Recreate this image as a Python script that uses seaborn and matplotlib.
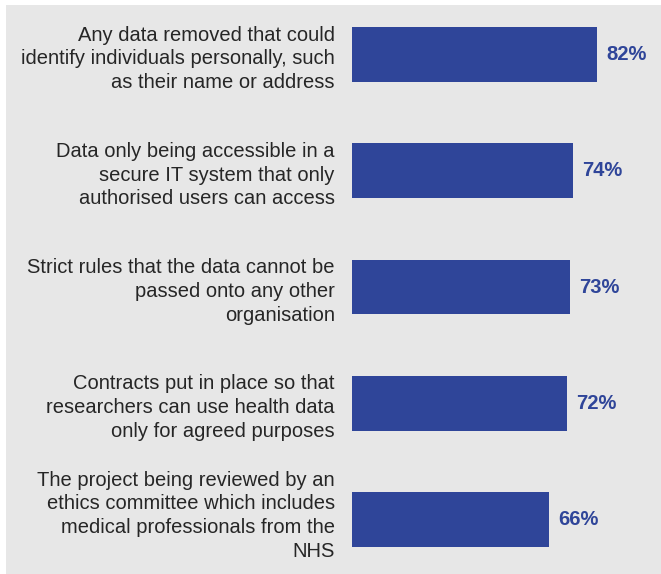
import matplotlib
matplotlib.use("Agg")
import matplotlib.pyplot as plt
from matplotlib.patches import Rectangle
import seaborn as sns
import pandas as pd

categories = [
    "Any data removed that could\nidentify individuals personally, such\nas their name or address",
    "Data only being accessible in a\nsecure IT system that only\nauthorised users can access",
    "Strict rules that the data cannot be\npassed onto any other\norganisation",
    "Contracts put in place so that\nresearchers can use health data\nonly for agreed purposes",
    "The project being reviewed by an\nethics committee which includes\nmedical professionals from the\nNHS",
]
values = [82, 74, 73, 72, 66]

bar_color = "#2F4599"
panel_color = "#E7E7E7"
text_color = "#262626"

sns.set_theme(style="white")
plt.rcParams["font.family"] = ["Liberation Sans", "DejaVu Sans"]

W, H = 661, 574
fig = plt.figure(figsize=(W / 100, H / 100), dpi=100)
fig.patch.set_facecolor("white")
fig.patches.append(Rectangle((6 / W, 0), 1 - 6 / W, 1 - 5 / H,
                             transform=fig.transFigure, facecolor=panel_color,
                             edgecolor="none", zorder=-10))

left_px, top_px, bottom_px = 352, 10, 564
ax = fig.add_axes([left_px / W, 1 - bottom_px / H, 298.8 / W, (bottom_px - top_px) / H])
ax.set_facecolor("none")

df = pd.DataFrame({"category": categories, "value": values})
sns.barplot(data=df, x="value", y="category", orient="h", color=bar_color,
            saturation=1, width=0.473, linewidth=0, ax=ax)

ax.set_xlim(0, 100)
ax.set_ylim(4.383, -0.383)
ax.set_xlabel("")
ax.set_ylabel("")
ax.set_xticks([])
for s in ax.spines.values():
    s.set_visible(False)

# the four-line label sits a little above its bar's centre
label_pos = [0, 1, 2, 3, 3.93]
ax.set_yticks(label_pos, labels=categories)
ax.tick_params(axis="y", length=0, pad=12.5, labelsize=14.5, labelcolor=text_color)
for lab in ax.get_yticklabels():
    lab.set_linespacing(1.32)
    lab.set_horizontalalignment("right")

for cont in ax.containers:
    ax.bar_label(cont, labels=[f"{v}%" for v in values], padding=6.5,
                 fontsize=14.5, fontweight="bold", color=bar_color)

fig.savefig("out.png", dpi=100)
